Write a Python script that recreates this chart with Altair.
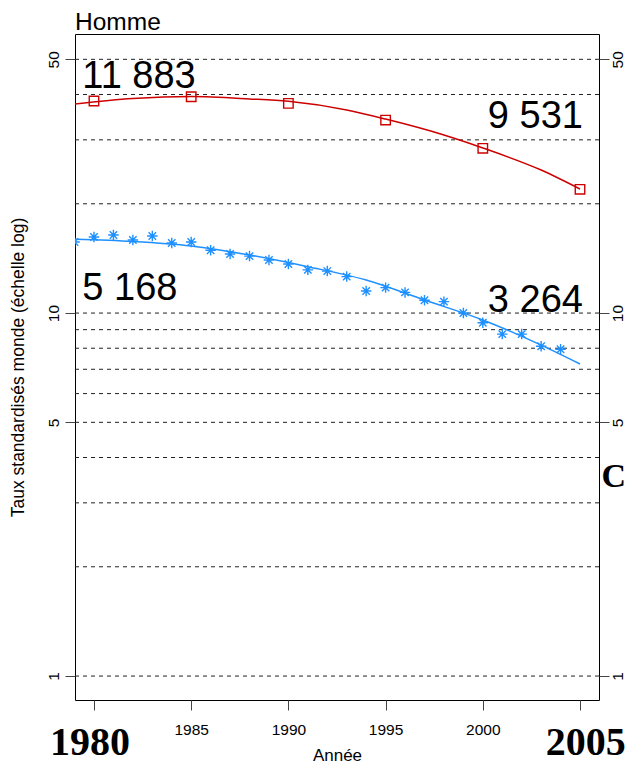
import altair as alt
import pandas as pd

# ---------------- data ----------------
blue_years = list(range(1979, 2005))
blue_vals = [15.7, 16.2, 16.4, 15.9, 16.3, 15.6, 15.7, 14.9, 14.55, 14.35,
             14.0, 13.65, 13.15, 13.05, 12.6, 11.5, 11.75, 11.4, 10.85, 10.75,
             10.0, 9.4, 8.75, 8.75, 8.1, 7.95]

blue_fit_years = [1979, 1982, 1985, 1988, 1991, 1994, 1997, 2000, 2003, 2005]
blue_fit_vals = [15.96, 15.74, 15.30, 14.45, 13.42, 12.33, 10.86, 9.57, 8.16, 7.24]

red_years = [1980, 1985, 1990, 1995, 2000, 2005]
red_vals = [38.37, 39.43, 37.82, 34.01, 28.43, 21.92]

red_fit_years = [1979, 1982, 1985, 1988, 1990, 1993, 1995, 1998, 2000, 2003, 2005]
red_fit_vals = [37.65, 38.98, 39.48, 38.9, 38.3, 36.25, 34.22, 30.93, 28.49, 24.77, 21.96]

grid_vals = [1, 2, 3, 4, 5, 6, 7, 8, 9, 10, 20, 30, 40, 50]
y_ticks = [1, 5, 10, 50]
x_ticks = [1980, 1985, 1990, 1995, 2000, 2005]

left_labels = ["11 883", "5 168"]
left_label_years = [1979.4, 1979.4]
left_label_vals = [41.6, 10.86]

right_labels = ["9 531", "3 264"]
right_label_years = [2005.15, 2005.15]
right_label_vals = [32.28, 10.08]

big_years_text = ["1980", "2005"]
big_years_x = [1979.8, 2005.3]
big_years_y = [0.654, 0.654]

side_text = ["C"]
side_x = [2006.1]
side_y = [3.53]

# ---------------- frames ----------------
df_blue = pd.DataFrame({"year": blue_years, "value": blue_vals})
df_blue_fit = pd.DataFrame({"year": blue_fit_years, "value": blue_fit_vals})
df_red = pd.DataFrame({"year": red_years, "value": red_vals})
df_red_fit = pd.DataFrame({"year": red_fit_years, "value": red_fit_vals})
df_grid = pd.DataFrame({"value": grid_vals})
df_left = pd.DataFrame({"year": left_label_years, "value": left_label_vals, "txt": left_labels})
df_right = pd.DataFrame({"year": right_label_years, "value": right_label_vals, "txt": right_labels})
df_big = pd.DataFrame({"year": big_years_x, "value": big_years_y, "txt": big_years_text})
df_side = pd.DataFrame({"year": side_x, "value": side_y, "txt": side_text})

RED = "#CD0000"
BLUE = "#1E90FF"
SANS = "Liberation Sans"
SERIF = "Liberation Serif"

x_scale = alt.Scale(domain=[1979.023, 2005.977], nice=False, zero=False)
y_scale = alt.Scale(type="log", domain=[0.8591, 58.71], nice=False)

x_axis = alt.Axis(values=x_ticks, format="d",
                  labelExpr="datum.value == 1980 || datum.value == 2005 ? '' : datum.label",
                  tickSize=10, tickColor="#444", labelFont=SANS, labelFontSize=15.5,
                  labelColor="black", labelPadding=12, domain=False, grid=False,
                  title="Année", titleFont=SANS, titleFontSize=17,
                  titleFontWeight="normal", titleColor="black", titlePadding=10)

y_axis_left = alt.Axis(values=y_ticks, format="d", labelAngle=-90, labelAlign="center",
                       labelBaseline="alphabetic", labelPadding=7, tickSize=10,
                       tickColor="#444", labelFont=SANS, labelFontSize=15.5,
                       labelColor="black", domain=False, grid=False,
                       title="Taux standardisés monde (échelle log)", titleFont=SANS,
                       titleFontSize=17.5, titleFontWeight="normal", titleColor="black",
                       titlePadding=19)

y_axis_right = alt.Axis(orient="right", values=y_ticks, format="d", labelAngle=-90,
                        labelAlign="center", labelBaseline="alphabetic", labelPadding=13,
                        tickSize=10, tickColor="#444", labelFont=SANS, labelFontSize=15.5,
                        labelColor="black", domain=False, grid=False, title="")

x_enc = alt.X("year:Q", scale=x_scale, axis=x_axis)

grid = alt.Chart(df_grid).mark_rule(color="#222", strokeWidth=1, strokeDash=[4, 4]).encode(
    y=alt.Y("value:Q", scale=y_scale, axis=None)
)

red_line = alt.Chart(df_red_fit).mark_line(color=RED, strokeWidth=1.5, interpolate="monotone", clip=True).encode(
    x=x_enc, y=alt.Y("value:Q", scale=y_scale, axis=y_axis_left)
)

red_pts = alt.Chart(df_red).mark_point(shape="square", size=90, filled=False, color=RED,
                                        strokeWidth=1.4, opacity=1, clip=True).encode(
    x=x_enc, y=alt.Y("value:Q", scale=y_scale, axis=None)
)

blue_line = alt.Chart(df_blue_fit).mark_line(color=BLUE, strokeWidth=1.5, interpolate="monotone", clip=True).encode(
    x=x_enc, y=alt.Y("value:Q", scale=y_scale, axis=None)
)

star = "M-1,0L1,0M0,-1L0,1M-0.707,-0.707L0.707,0.707M-0.707,0.707L0.707,-0.707"
blue_pts = alt.Chart(df_blue).mark_point(shape=star, size=110, filled=False, color=BLUE,
                                          strokeWidth=1.4, opacity=1, clip=True).encode(
    x=x_enc, y=alt.Y("value:Q", scale=y_scale, axis=y_axis_right)
)

txt_left = alt.Chart(df_left).mark_text(align="left", baseline="alphabetic", font=SANS,
                                         fontSize=38, color="black").encode(
    x=x_enc, y=alt.Y("value:Q", scale=y_scale, axis=None), text="txt:N"
)
txt_right = alt.Chart(df_right).mark_text(align="right", baseline="alphabetic", font=SANS,
                                           fontSize=38, color="black").encode(
    x=x_enc, y=alt.Y("value:Q", scale=y_scale, axis=None), text="txt:N"
)
txt_big = alt.Chart(df_big).mark_text(align="center", baseline="middle", font=SERIF,
                                       fontWeight="bold", fontSize=40, color="black").encode(
    x=x_enc, y=alt.Y("value:Q", scale=y_scale, axis=None), text="txt:N"
)
txt_side = alt.Chart(df_side).mark_text(align="left", baseline="middle", font=SERIF,
                                         fontWeight="bold", fontSize=34, color="black").encode(
    x=x_enc, y=alt.Y("value:Q", scale=y_scale, axis=None), text="txt:N"
)

chart = alt.layer(
    grid, red_line, red_pts, blue_line, blue_pts, txt_left, txt_right, txt_big, txt_side
).resolve_axis(y="independent").properties(
    width=524, height=666,
    title=alt.TitleParams("Homme", anchor="start", fontSize=24.5, font=SANS,
                          fontWeight="normal", color="black", offset=-1.5, frame="group"),
    autosize=alt.AutoSizeParams(type="none"),
    padding={"left": 67, "top": 26, "right": 26, "bottom": 64},
).configure(
    background="white",
    view=alt.ViewConfig(stroke="black", strokeWidth=1),
)

chart.save("out.html", embed_options={"renderer": "svg", "actions": False})
